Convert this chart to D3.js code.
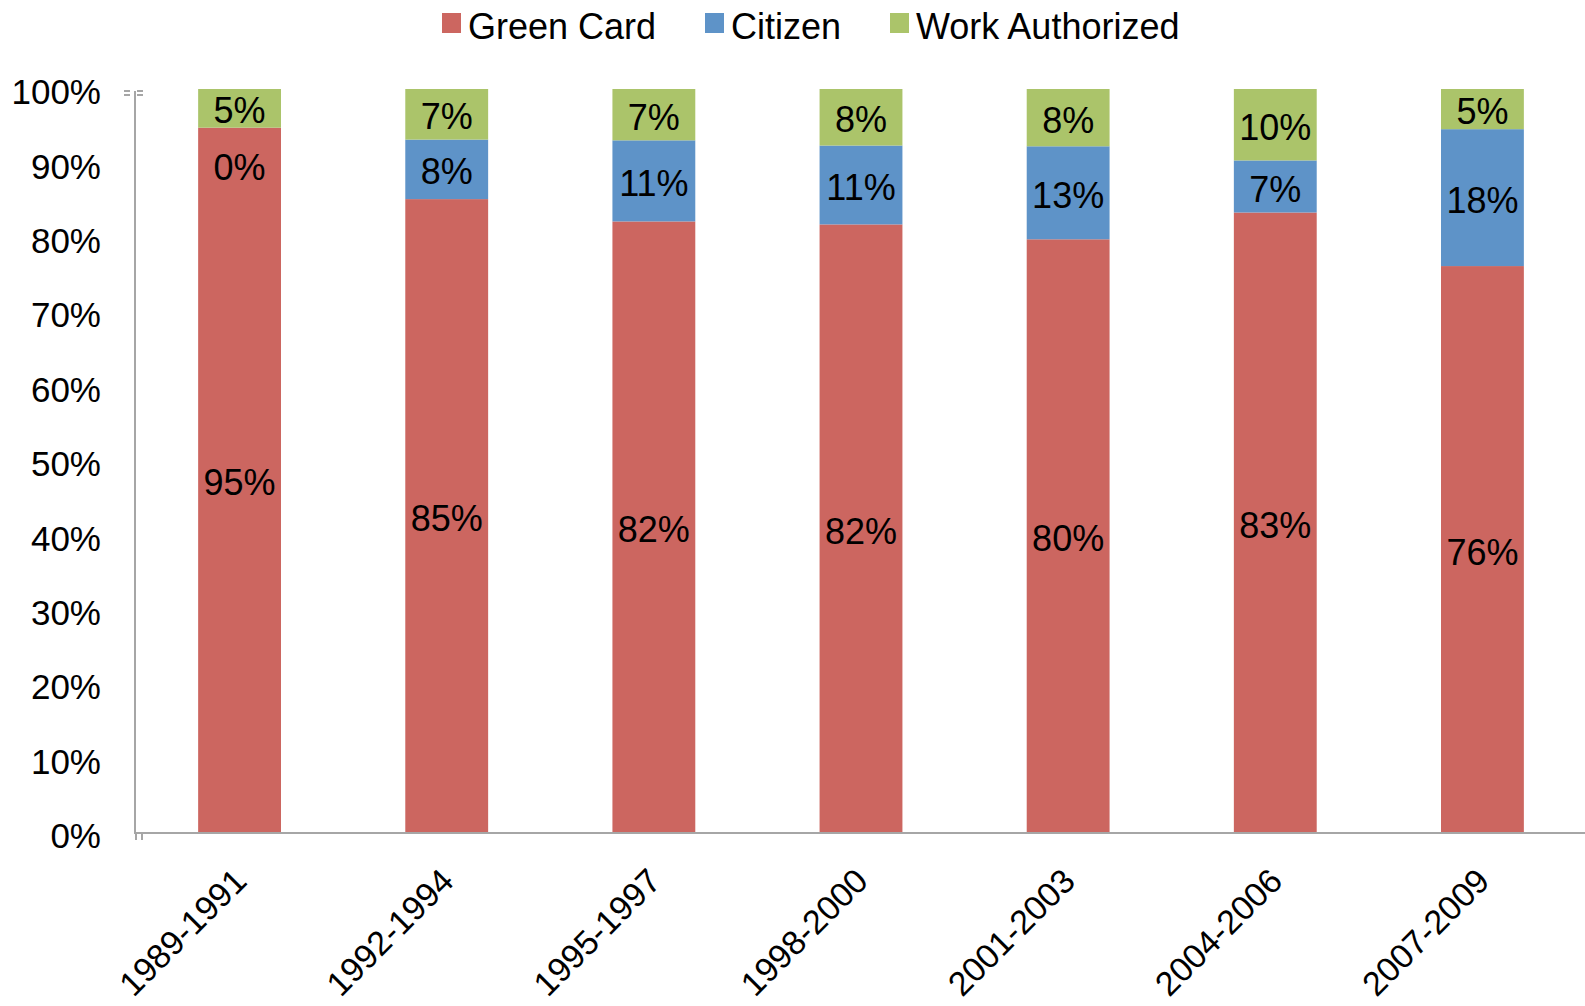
<!DOCTYPE html>
<html><head><meta charset="utf-8">
<script src="https://cdn.jsdelivr.net/npm/d3@7"></script>
<style>body{margin:0;background:#fff}svg{display:block}text{font-family:"Liberation Sans",Arial,sans-serif;fill:#000}</style>
</head><body><svg id="c" width="1585" height="1006"></svg>
<script>
const categories = ["1989-1991","1992-1994","1995-1997","1998-2000","2001-2003","2004-2006","2007-2009"];
const seriesNames = ["Green Card","Citizen","Work Authorized"];
const greenCard = [94.8, 85.2, 82.2, 81.8, 79.8, 83.4, 76.2];
const citizen = [0.0, 8.0, 10.9, 10.6, 12.5, 7.0, 18.4];
const workAuth = [5.2, 6.8, 6.9, 7.6, 7.7, 9.6, 5.4];
const yTicks = [0,10,20,30,40,50,60,70,80,90,100];
const colors = ["#cc6660","#5e93c8","#abc46a"];

const svg = d3.select("#c");
const m = {l:136, r:1586, t:89, b:833};
const x = d3.scaleBand().domain(categories).range([m.l, m.r]).paddingInner(0.6).paddingOuter(0.3);
const y = d3.scaleLinear().domain([0,100]).range([m.b, m.t]);

const rows = categories.map((c,i)=>({cat:c,"Green Card":greenCard[i],"Citizen":citizen[i],"Work Authorized":workAuth[i]}));
const stack = d3.stack().keys(seriesNames)(rows);

// bars
const g = svg.append("g");
stack.forEach((s,si)=>{
  g.selectAll(null).data(s).enter().append("rect")
    .attr("x", d=>x(d.data.cat)).attr("width", x.bandwidth())
    .attr("y", d=>y(d[1])).attr("height", d=>y(d[0])-y(d[1]))
    .attr("fill", colors[si]);
});

// axes lines
const axisColor = "#a6a6a6";
svg.append("line").attr("x1",135).attr("x2",135).attr("y1",y(100)+2).attr("y2",y(0)+1).attr("stroke",axisColor).attr("stroke-width",2);
svg.append("line").attr("x1",134).attr("x2",1585).attr("y1",y(0)).attr("y2",y(0)).attr("stroke",axisColor).attr("stroke-width",2);
// break marks at top
[y(100)+2, y(100)+6].forEach(v=>{
  svg.append("line").attr("x1",124).attr("x2",130).attr("y1",v).attr("y2",v).attr("stroke",axisColor).attr("stroke-width",2);
  svg.append("line").attr("x1",137).attr("x2",143).attr("y1",v).attr("y2",v).attr("stroke",axisColor).attr("stroke-width",2);
});
[136,142].forEach(v=>{
  svg.append("line").attr("x1",v).attr("x2",v).attr("y1",y(0)).attr("y2",y(0)+7).attr("stroke",axisColor).attr("stroke-width",2);
});

// y tick labels
svg.selectAll(null).data(yTicks).enter().append("text")
  .attr("x",101).attr("y",d=>y(d)+3).attr("dy","0.35em")
  .attr("text-anchor","end").attr("font-size",35).text(d=>d+"%");

// x labels
svg.selectAll(null).data(categories).enter().append("text")
  .attr("transform", d=>`translate(${x(d)+x.bandwidth()/2+9},${y(0)+50}) rotate(-45)`)
  .attr("text-anchor","end").attr("font-size",34).text(d=>d);

// data labels
stack.forEach((s,si)=>{
  svg.selectAll(null).data(s).enter().append("text")
    .attr("x", d=>x(d.data.cat)+x.bandwidth()/2)
    .attr("y", d=>{
      const v = d[1]-d[0];
      return Math.round(v)===0 ? y(d[1])+37 : (y(d[0])+y(d[1]))/2;
    })
    .attr("dy","0.42em").attr("text-anchor","middle").attr("font-size",36)
    .text(d=>Math.round(d[1]-d[0])+"%");
});

// legend
const legX = [442, 705, 890];
seriesNames.forEach((n,i)=>{
  svg.append("rect").attr("x",legX[i]).attr("y",13).attr("width",19).attr("height",20).attr("fill",colors[i]);
  svg.append("text").attr("x",legX[i]+26).attr("y",39).attr("font-size",36).text(n);
});
</script></body></html>
